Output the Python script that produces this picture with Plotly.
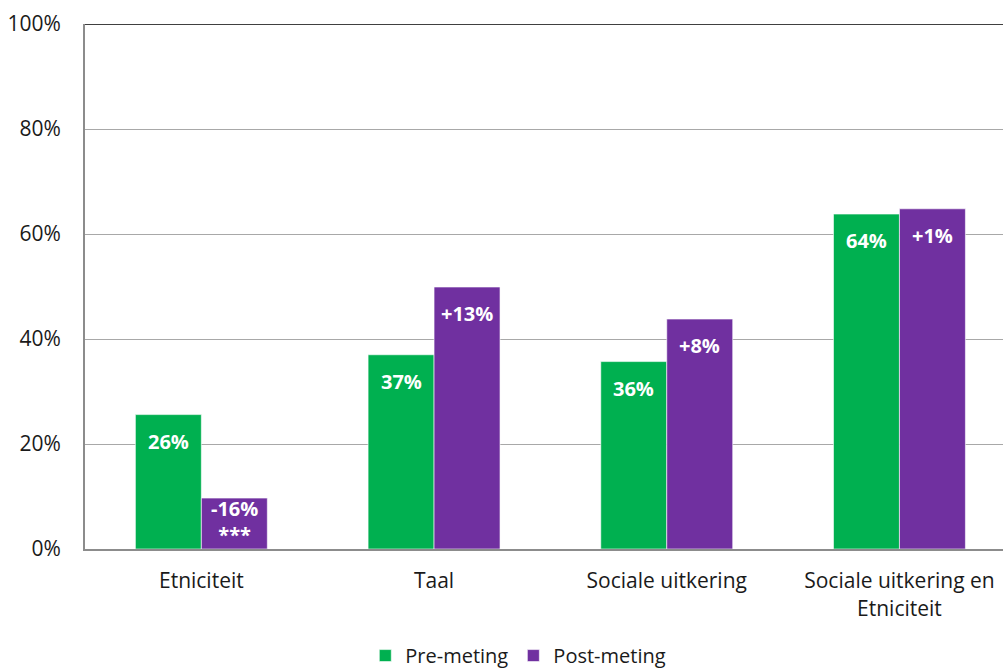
import plotly.graph_objects as go

categories = ["Etniciteit", "Taal", "Sociale uitkering", "Sociale uitkering en<br>Etniciteit"]
pre_values = [25.6, 37.0, 35.7, 63.8]
post_values = [9.7, 49.9, 43.8, 64.8]
pre_labels = ["26%", "37%", "36%", "64%"]
post_labels = ["-16%<br>***", "+13%", "+8%", "+1%"]
series_names = ["Pre-meting", "Post-meting"]
y_ticks = [0, 20, 40, 60, 80, 100]
y_tick_labels = ["0%", "20%", "40%", "60%", "80%", "100%"]

GREEN = "#00B050"
PURPLE = "#7030A0"
FONT = "Open Sans, Calibri, Carlito, sans-serif"

BARGAP = 0.433
X_RANGE = [-0.5, 3.445]
MARGIN_T, MARGIN_B, MARGIN_L, MARGIN_R = 24, 121, 85, 0
H, W = 670, 1003
plot_h = H - MARGIN_T - MARGIN_B
px_per_unit = plot_h / 100.0

fig = go.Figure()
fig.add_trace(go.Bar(x=categories, y=pre_values, name=series_names[0],
                     marker=dict(color=GREEN, line=dict(color="white", width=0.6))))
fig.add_trace(go.Bar(x=categories, y=post_values, name=series_names[1],
                     marker=dict(color=PURPLE, line=dict(color="white", width=0.6))))

half = (1 - BARGAP) / 4.0
annotations = []
for i in range(len(categories)):
    for vals, labels, sign in ((pre_values, pre_labels, -1), (post_values, post_labels, 1)):
        v = vals[i]
        lab = labels[i]
        nlines = lab.count("<br>") + 1
        label_h = nlines * 27
        bar_px = v * px_per_unit
        shift = min(11, bar_px - label_h - 2)
        annotations.append(dict(
            x=i + sign * half, y=v, xref="x", yref="y",
            text="<b>" + lab + "</b>", showarrow=False,
            yanchor="top", xanchor="center", yshift=-shift,
            font=dict(family=FONT, size=20, color="white"),
        ))

fig.add_shape(type="line", xref="paper", yref="y", x0=0, x1=1,
              y0=y_ticks[-1], y1=y_ticks[-1], line=dict(color="#000000", width=1.5))

fig.update_layout(
    width=W, height=H,
    margin=dict(l=MARGIN_L, r=MARGIN_R, t=MARGIN_T, b=MARGIN_B, autoexpand=False),
    paper_bgcolor="white", plot_bgcolor="white",
    barmode="group", bargap=BARGAP, bargroupgap=0,
    font=dict(family=FONT, size=21, color="#1a1a1a"),
    showlegend=True,
    legend=dict(orientation="h", x=0.472, xanchor="center", y=-0.203, yanchor="middle",
                font=dict(family=FONT, size=20, color="#1a1a1a"),
                itemwidth=30, traceorder="normal"),
    annotations=annotations,
)
fig.update_yaxes(range=[0, 100], tickvals=y_ticks, ticktext=y_tick_labels,
                 showgrid=True, gridcolor="#A8A8A8", gridwidth=1,
                 showline=True, linecolor="#8C8C8C", linewidth=2,
                 zeroline=False, ticks="", ticklabelstandoff=18, automargin=False,
                 tickfont=dict(family=FONT, size=21, color="#1a1a1a"))
fig.update_xaxes(range=X_RANGE, showline=True, linecolor="#8C8C8C", linewidth=2, ticks="",
                 ticklabelstandoff=12, automargin=False,
                 tickfont=dict(family=FONT, size=21, color="#1a1a1a"))

fig.write_html("out.html")
